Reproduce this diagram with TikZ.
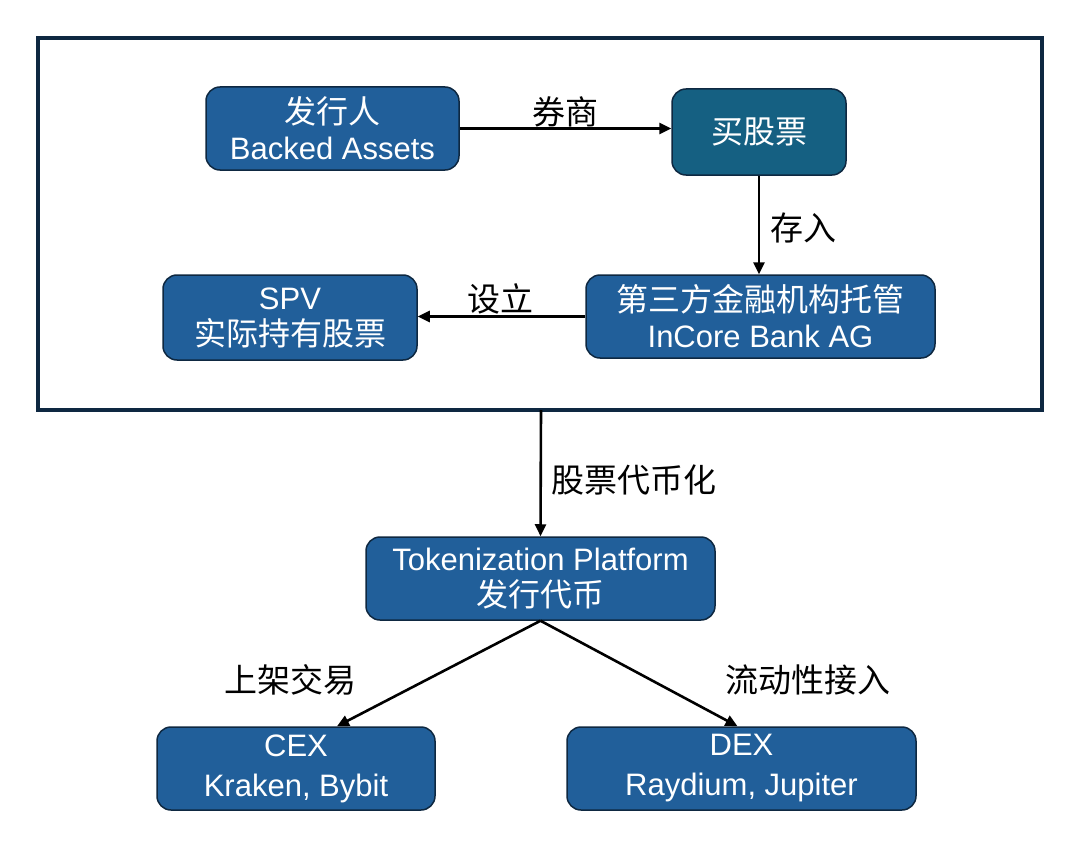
\documentclass[tikz,border=0pt]{standalone}
\usepackage{fontspec}
\setmainfont{Liberation Sans}
\newfontfamily\cjk{Noto Sans CJK SC}
\usetikzlibrary{arrows.meta}
\definecolor{boxblue}{HTML}{215F9A}
\definecolor{boxteal}{HTML}{156082}
\definecolor{navy}{HTML}{0E2841}
\newcommand{\zh}[1]{{\cjk\fontsize{32}{40}\selectfont #1}}
\tikzset{
  box/.style={draw=navy, line width=1.5pt, fill=boxblue, rounded corners=14pt, text=white,
    align=center, inner sep=0pt, font=\fontsize{31}{40}\selectfont},
  conn/.style={draw=black, line width=2.6pt, -{Triangle[length=12pt,width=11pt]}},
  lbl/.style={font=\cjk\fontsize{33}{38}\selectfont, text=black}
}
\begin{document}
\begin{tikzpicture}[x=1pt,y=-1pt]
\useasboundingbox (0,0) rectangle (1080,851);
\fill[white] (0,0) rectangle (1080,851);
\draw[navy, line width=4pt] (38,38) rectangle (1042,410);
\coordinate (fb) at (541,410);

\node[box, minimum width=253pt, minimum height=83pt] (issuer) at (332.5,128.5)
  {\zh{发行人}\\[-4pt]Backed Assets};
\node[box, fill=boxteal, minimum width=174pt, minimum height=86pt] (buy) at (759,132)
  {\zh{买股票}};
\node[box, minimum width=349pt, minimum height=83pt] (cust) at (760.5,316.5)
  {\zh{第三方金融机构托管}\\[-4pt]InCore Bank AG};
\node[box, minimum width=254pt, minimum height=85pt] (spv) at (290,317.5)
  {SPV\\[-4pt]\zh{实际持有股票}};
\node[box, minimum width=349pt, minimum height=83pt] (tok) at (540.5,578.5)
  {Tokenization Platform\\[-4pt]\zh{发行代币}};
\node[box, minimum width=278pt, minimum height=83pt] (cex) at (296,768.5)
  {CEX\\[0pt]Kraken, Bybit};
\node[box, minimum width=349pt, minimum height=83pt] (dex) at (741.5,768.5)
  {DEX\\[0pt]Raydium, Jupiter};

\draw[conn] (issuer.east) -- (buy.west|-issuer.east);
\node[lbl] (l1) at (565,112) {券商};
\draw[conn] (buy.south) -- (buy.south|-cust.north);
\node[lbl] (l2) at (803,228) {存入};
\draw[conn] (cust.west) -- (spv.east|-cust.west);
\node[lbl] (l3) at (500,299) {设立};
\draw[conn] (fb) -- (tok.north);
\node[lbl] (l4) at (634,480) {股票代币化};
\draw[conn] (tok.south) -- ([xshift=41pt]cex.north);
\draw[conn] (tok.south) -- ([xshift=-4pt]dex.north);
\node[lbl] (l5) at (290,680) {上架交易};
\node[lbl] (l6) at (808,680) {流动性接入};
\end{tikzpicture}
\end{document}
